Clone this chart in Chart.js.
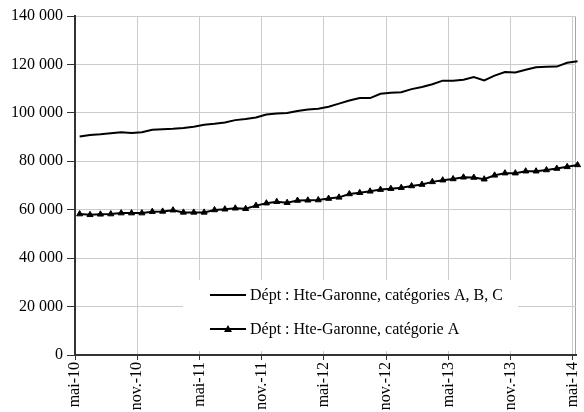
<!DOCTYPE html>
<html>
<head>
<meta charset="utf-8">
<script src="https://cdn.jsdelivr.net/npm/chart.js@4"></script>
<style>
  html, body { margin: 0; padding: 0; background: #fff; }
  #wrap { width: 584px; height: 412px; position: relative; }
</style>
</head>
<body>
<div id="wrap"><canvas id="chart"></canvas></div>
<script>
// ============================================
// DATA (monthly, mai-10 .. mai-14)
// ============================================
var tickLabels = ["mai-10", "nov.-10", "mai-11", "nov.-11", "mai-12", "nov.-12", "mai-13", "nov.-13", "mai-14"];
var seriesNames = ["Dépt : Hte-Garonne, catégories A, B, C", "Dépt : Hte-Garonne, catégorie A"];

var valuesABC = [
  90200, 90900, 91200, 91600, 92000, 91700, 92000, 93000, 93200, 93400,
  93700, 94300, 95100, 95500, 96000, 97000, 97500, 98100, 99300, 99700,
  99900, 100800, 101400, 101700, 102500, 103800, 105100, 106100, 106100, 107900,
  108300, 108500, 109800, 110700, 111800, 113300, 113300, 113700, 114800, 113400,
  115400, 116900, 116700, 117800, 118800, 119000, 119100, 120700, 121300
];
var valuesA = [
  58200, 57900, 58100, 58200, 58600, 58600, 58600, 59200, 59300, 59800,
  58900, 58900, 58900, 59900, 60200, 60600, 60400, 61700, 62700, 63300,
  62900, 63800, 63900, 64000, 64600, 65100, 66500, 67000, 67600, 68300,
  68700, 69100, 69800, 70400, 71500, 72200, 72700, 73400, 73300, 72600,
  74200, 75100, 75100, 75900, 75900, 76400, 77000, 77700, 78500
];

var FONT = "'Liberation Serif', 'DejaVu Serif', serif";

// points sit mid-month (date axis), labels on the 1st
function toPoints(arr) {
  return arr.map(function (v, i) {
    return { x: i + 0.45, y: v };
  });
}

function fmtThousands(v) {
  return String(v).replace(/\B(?=(\d{3})+(?!\d))/g, " ");
}

// ============================================
// PLUGINS - frame + legend box inside plot
// ============================================
var framePlugin = {
  id: "frame",
  beforeDraw: function (chart) {
    var a = chart.chartArea, c = chart.ctx;
    c.save();
    c.strokeStyle = "#a6a6a6";
    c.lineWidth = 1;
    c.strokeRect(a.left, a.top + 0.5, a.right - a.left - 0.5, a.bottom - a.top);
    c.restore();
  }
};

var legendPlugin = {
  id: "boxLegend",
  afterDatasetsDraw: function (chart) {
    var c = chart.ctx;
    var box = { x: 183, y: 280, w: 335, h: 71 };
    c.save();
    c.fillStyle = "#fff";
    c.fillRect(box.x, box.y, box.w, box.h);
    c.font = "16px " + FONT;
    c.fillStyle = "#000";
    c.textBaseline = "middle";
    var rows = [295, 329];
    rows.forEach(function (y, i) {
      c.strokeStyle = "#000";
      c.lineWidth = 2;
      c.beginPath();
      c.moveTo(210, y);
      c.lineTo(246, y);
      c.stroke();
      if (i === 1) {
        c.beginPath();
        c.moveTo(228, y - 4);
        c.lineTo(232, y + 3);
        c.lineTo(224, y + 3);
        c.closePath();
        c.fill();
      }
      c.fillText(seriesNames[i], 250, y + 1);
    });
    c.restore();
  }
};

// ============================================
// CHART
// ============================================
new Chart(document.getElementById("chart"), {
  type: "line",
  data: {
    datasets: [
      {
        label: seriesNames[0],
        data: toPoints(valuesABC),
        borderColor: "#000",
        borderWidth: 2,
        pointRadius: 0,
        tension: 0,
        clip: false
      },
      {
        label: seriesNames[1],
        data: toPoints(valuesA),
        borderColor: "#000",
        backgroundColor: "#000",
        borderWidth: 2,
        pointStyle: "triangle",
        pointRadius: 3.5,
        pointBorderWidth: 1,
        tension: 0,
        clip: false
      }
    ]
  },
  options: {
    responsive: true,
    maintainAspectRatio: false,
    animation: false,
    layout: { padding: { top: 16, right: 8, left: 0, bottom: 0 } },
    plugins: {
      legend: { display: false },
      tooltip: { enabled: false }
    },
    scales: {
      x: {
        type: "linear",
        min: 0,
        max: 48.3,
        afterFit: function (s) {
          s.height = 57;
          s.paddingLeft = 0;
          s.paddingRight = 0;
        },
        grid: { color: "#cccccc", tickColor: "#333", tickLength: 5 },
        border: { color: "#333", width: 2 },
        ticks: {
          stepSize: 6,
          includeBounds: false,
          autoSkip: false,
          minRotation: 90,
          maxRotation: 90,
          padding: 2,
          color: "#000",
          font: { family: FONT, size: 16 },
          callback: function (v) {
            return tickLabels[Math.round(v / 6)];
          }
        }
      },
      y: {
        min: 0,
        max: 140000,
        afterFit: function (s) {
          s.width = 75;
          s.paddingTop = 0;
          s.paddingBottom = 0;
        },
        grid: { color: "#cccccc", tickColor: "#333", tickLength: 8 },
        border: { color: "#333", width: 2 },
        ticks: {
          stepSize: 20000,
          padding: 4,
          color: "#000",
          font: { family: FONT, size: 16 },
          callback: function (v) { return fmtThousands(v); }
        }
      }
    }
  },
  plugins: [framePlugin, legendPlugin]
});
</script>
</body>
</html>
